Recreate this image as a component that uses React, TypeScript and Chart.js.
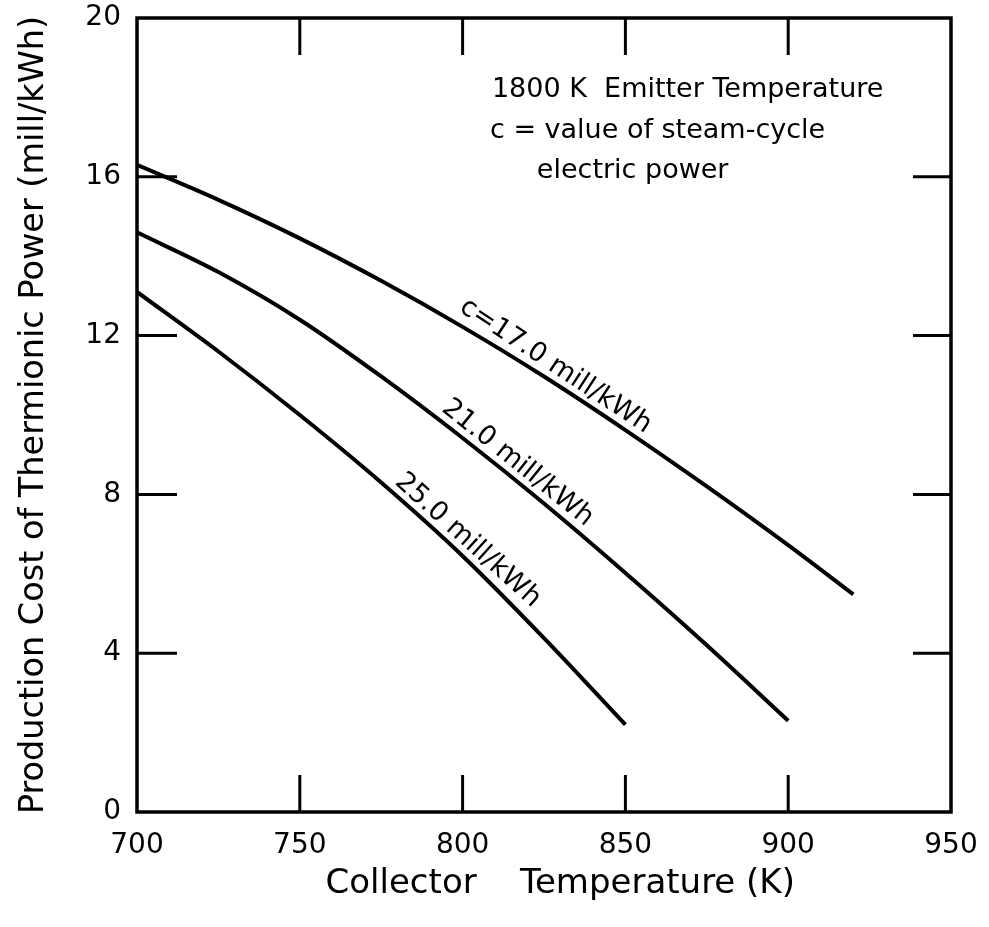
import { useEffect, useRef } from 'react';
import { Chart, registerables } from 'chart.js';

Chart.register(...registerables);

// ---- data ----
const temps17 = [700, 725, 750, 775, 800, 825, 850, 875, 900, 920];
const cost17 = [16.3, 15.42, 14.45, 13.38, 12.22, 10.97, 9.62, 8.2, 6.72, 5.48];

const temps21 = [700, 725, 750, 775, 800, 825, 850, 875, 900];
const cost21 = [14.6, 13.6, 12.4, 10.97, 9.42, 7.77, 6.02, 4.2, 2.3];

const temps25 = [700, 725, 750, 775, 800, 825, 850];
const cost25 = [13.1, 11.6, 10.0, 8.3, 6.45, 4.38, 2.2];

const xTicks = [700, 750, 800, 850, 900, 950];
const yTicks = [0, 4, 8, 12, 16, 20];

const curveLabels = ['c=17.0 mill/kWh', '21.0 mill/kWh', '25.0 mill/kWh'];
const curveLabelAt = [826, 814, 798.5];

const noteLines = ['1800 K  Emitter Temperature', 'c = value of steam-cycle', 'electric power'];
const noteX = [809, 808.4, 822.8];
const noteY = [18.0, 16.98, 15.97];

const FONT = "'DejaVu Sans', sans-serif";

const decor = {
  id: 'decor',
  afterDatasetsDraw(chart: any) {
    const { ctx, chartArea: a, scales } = chart;
    const x = scales.x;
    const y = scales.y;
    ctx.save();
    ctx.strokeStyle = '#000';
    ctx.lineWidth = 3.5;
    ctx.strokeRect(a.left, a.top, a.right - a.left, a.bottom - a.top);
    ctx.lineWidth = 3;
    ctx.beginPath();
    for (const t of xTicks.slice(1, -1)) {
      const px = x.getPixelForValue(t);
      ctx.moveTo(px, a.bottom);
      ctx.lineTo(px, a.bottom - 37);
      ctx.moveTo(px, a.top);
      ctx.lineTo(px, a.top + 37);
    }
    for (const v of yTicks.slice(1, -1)) {
      const py = y.getPixelForValue(v);
      ctx.moveTo(a.left, py);
      ctx.lineTo(a.left + 40, py);
      ctx.moveTo(a.right, py);
      ctx.lineTo(a.right - 38, py);
    }
    ctx.stroke();

    ctx.fillStyle = '#000';
    ctx.font = `27px ${FONT}`;
    ctx.textAlign = 'left';
    ctx.textBaseline = 'alphabetic';
    noteLines.forEach((s, i) => {
      ctx.fillText(s, x.getPixelForValue(noteX[i]), y.getPixelForValue(noteY[i]));
    });

    chart.data.datasets.forEach((_ds: any, i: number) => {
      const pts = chart.getDatasetMeta(i).data;
      const px = x.getPixelForValue(curveLabelAt[i]);
      let k = 0;
      while (k < pts.length - 2 && pts[k + 1].x < px) k++;
      const p0 = pts[k];
      const p1 = pts[k + 1];
      const f = (px - p0.x) / (p1.x - p0.x);
      const py = p0.y + f * (p1.y - p0.y);
      const ang = Math.atan2(p1.y - p0.y, p1.x - p0.x);
      ctx.save();
      ctx.translate(px, py);
      ctx.rotate(ang);
      ctx.textAlign = 'center';
      ctx.textBaseline = 'alphabetic';
      ctx.font = `27px ${FONT}`;
      ctx.fillText(curveLabels[i], 0, -8);
      ctx.restore();
    });
    ctx.restore();
  },
};

function toPoints(xs: number[], ys: number[]) {
  return xs.map((t, i) => ({ x: t, y: ys[i] }));
}

export default function App() {
  const ref = useRef<HTMLCanvasElement | null>(null);

  useEffect(() => {
    if (!ref.current) return;
    const lineStyle = {
      borderColor: '#000',
      borderWidth: 4,
      pointRadius: 0,
      fill: false,
      cubicInterpolationMode: 'monotone' as const,
    };
    const chart = new Chart(ref.current, {
      type: 'line',
      data: {
        datasets: [
          { ...lineStyle, label: '17.0', data: toPoints(temps17, cost17) },
          { ...lineStyle, label: '21.0', data: toPoints(temps21, cost21) },
          { ...lineStyle, label: '25.0', data: toPoints(temps25, cost25) },
        ],
      },
      options: {
        responsive: false,
        animation: false,
        layout: { padding: { top: 18, right: 38, left: 0, bottom: 0 } },
        plugins: { legend: { display: false }, tooltip: { enabled: false } },
        scales: {
          x: {
            type: 'linear',
            min: 700,
            max: 950,
            afterBuildTicks: (s: any) => {
              s.ticks = xTicks.map((v) => ({ value: v }));
            },
            afterFit: (s: any) => {
              s.height = 115;
              s.paddingLeft = 0;
              s.paddingRight = 0;
            },
            ticks: {
              font: { family: FONT, size: 28 },
              color: '#000',
              padding: 17,
              maxRotation: 0,
              autoSkip: false,
            },
            grid: { display: false, drawTicks: false },
            border: { display: false },
            title: {
              display: true,
              text: '   Collector    Temperature (K)',
              font: { family: FONT, size: 34 },
              color: '#000',
              padding: { top: 0, bottom: 22 },
            },
          },
          y: {
            type: 'linear',
            min: 0,
            max: 20,
            afterBuildTicks: (s: any) => {
              s.ticks = yTicks.map((v) => ({ value: v }));
            },
            afterFit: (s: any) => {
              s.width = 137;
              s.paddingTop = 0;
              s.paddingBottom = 0;
            },
            ticks: {
              font: { family: FONT, size: 28 },
              color: '#000',
              padding: 16,
              autoSkip: false,
            },
            grid: { display: false, drawTicks: false },
            border: { display: false },
            title: {
              display: true,
              text: 'Production Cost of Thermionic Power (mill/kWh)',
              font: { family: FONT, size: 33.5 },
              color: '#000',
              padding: { top: 14, bottom: 0 },
            },
          },
        },
      },
      plugins: [decor],
    });
    return () => chart.destroy();
  }, []);

  return (
    <div style={{ position: 'fixed', left: 0, top: 0, width: 989, height: 927, background: '#fff' }}>
      <canvas ref={ref} width={989} height={927} style={{ width: 989, height: 927, display: 'block' }} />
    </div>
  );
}
